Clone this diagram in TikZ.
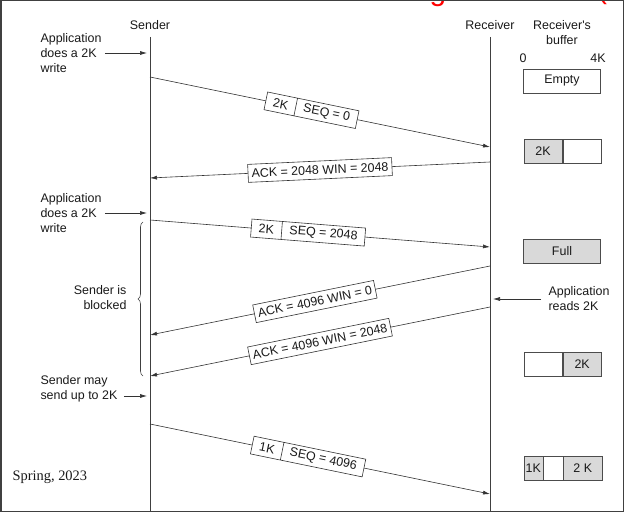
\documentclass[tikz,border=0pt]{standalone}
\usepackage{fontspec}
\setmainfont{Liberation Sans}
\newfontfamily\springfont{Liberation Serif}
\usepackage{tikz}
\usetikzlibrary{arrows.meta, positioning, shapes.multipart, decorations.pathreplacing}

\begin{document}
\begin{tikzpicture}[
        x=1bp, y=-1bp,
        >={Latex[length=7bp, width=4bp]},
        every node/.style={font=\fontsize{12.5}{15}\selectfont, text=black!90},
        lifeline/.style={draw=black!75, line width=0.8bp},
        msg/.style={->, draw=black!80, line width=0.6bp},
        notearr/.style={->, draw=black!80, line width=0.6bp, shorten >=3bp},
        seg/.style={draw=black!80, fill=white, line width=0.6bp, sloped,
            rectangle split, rectangle split horizontal, rectangle split parts=2,
            inner xsep=7.5bp, inner ysep=3.5bp, minimum height=18bp},
        ackbox/.style={draw=black!80, fill=white, line width=0.6bp, sloped,
            inner xsep=3.5bp, inner ysep=3.5bp, minimum height=18bp},
        buf/.style={draw=black!70, line width=0.6bp, minimum height=24bp, inner sep=0pt},
        fullbuf/.style={buf, fill=black!15},
        note/.style={align=left, anchor=west},
        title/.style={red, anchor=base, font=\fontsize{30}{30}\selectfont},
    ]
    \useasboundingbox (0,0) rectangle (625,512);

    %% ===== Slide remnants =====
    \node[title] (ttlg) at (438,1) {g};
    \node[title] (ttlp) at (602,-1) {(};
    \draw[black!75, line width=1.5bp] (0.75,0.75) rectangle (623.25,511.25);

    %% ===== Lifelines =====
    \node (sender) at (150,25) {Sender};
    \node (receiver) at (490,25) {Receiver};
    \node[align=center] (rbuf) at (562,32.5) {Receiver\textquotesingle s\\buffer};
    \node (zero) at (523,58) {0};
    \node (fourk) at (598,58) {4K};
    \coordinate (sTop) at (150,37);
    \coordinate (sBot) at (150,512);
    \coordinate (rTop) at (490,37);
    \coordinate (rBot) at (490,512);
    \draw[lifeline] (sTop) -- (sBot);
    \draw[lifeline] (rTop) -- (rBot);

    %% ===== Message end points =====
    \coordinate (s1) at (150,77);  \coordinate (r1) at (490,147);
    \coordinate (r2) at (490,162); \coordinate (s2) at (150,178);
    \coordinate (s3) at (150,220); \coordinate (r3) at (490,247);
    \coordinate (r4) at (490,266); \coordinate (s4) at (150,335);
    \coordinate (r5) at (490,307); \coordinate (s5) at (150,376);
    \coordinate (s6) at (150,424); \coordinate (r6) at (490,494);

    %% ===== Messages =====
    \draw[msg] (s1) -- node[seg, pos=0.475] (seg1) {2K \nodepart{two} SEQ = 0} (r1);
    \draw[msg] (r2) -- node[ackbox, pos=0.5] (ack1) {ACK = 2048 WIN = 2048} (s2);
    \draw[msg] (s3) -- node[seg, pos=0.465] (seg2) {2K \nodepart{two} SEQ = 2048} (r3);
    \draw[msg] (r4) -- node[ackbox, pos=0.515] (ack2) {ACK = 4096 WIN = 0} (s4);
    \draw[msg] (r5) -- node[ackbox, pos=0.5] (ack3) {ACK = 4096 WIN = 2048} (s5);
    \draw[msg] (s6) -- node[seg, pos=0.465] (seg3) {1K \nodepart{two} SEQ = 4096} (r6);

    %% ===== Sender side notes =====
    \node[note] (app1) at (37,53) {Application\\does a 2K\\write};
    \draw[notearr] (app1.east) -- (app1.east -| sTop);
    \node[note] (app2) at (37,213) {Application\\does a 2K\\write};
    \draw[notearr] (app2.east) -- (app2.east -| sTop);

    \coordinate (bTop) at (143,222);
    \coordinate (bBot) at (143,376);
    \draw[black!75, line width=0.6bp, decorate, decoration={brace, amplitude=5bp}] (bBot) -- (bTop);
    \node[align=right, anchor=east] (blocked) at (130,298) {Sender is\\blocked};

    \node[note] (may) at (37,388.5) {Sender may\\send up to 2K};
    \path (may.east) ++(3bp,7.5) coordinate (mayArr);
    \draw[notearr] (mayArr) -- (mayArr -| sTop);

    %% ===== Receiver side note =====
    \node[note] (reads) at (545,299) {Application\\reads 2K};
    \draw[notearr] ([xshift=-4bp]reads.west) -- (reads.west -| rTop);

    %% ===== Receiver's buffer =====
    \node[buf, minimum width=77bp] (bEmpty) at (562,81) {Empty};

    \node[fullbuf, minimum width=38.5bp, anchor=west] (b2a) at (523.5,151.5) {2K};
    \node[buf, minimum width=38.5bp, right=0pt of b2a] (b2b) {};

    \node[fullbuf, minimum width=77bp] (bFull) at (562,251) {Full};

    \node[buf, minimum width=38.5bp, anchor=west] (b3a) at (523.5,364.5) {};
    \node[fullbuf, minimum width=38.5bp, right=0pt of b3a] (b3b) {2K};

    \node[fullbuf, minimum width=19bp, anchor=west] (b4a) at (523.5,468) {1K};
    \node[buf, minimum width=19.5bp, right=0pt of b4a] (b4b) {};
    \node[fullbuf, minimum width=38.5bp, right=0pt of b4b] (b4c) {2 K};

    %% ===== Footer =====
    \node[anchor=west, font=\springfont\fontsize{14.5}{17}\selectfont] (spring) at (9,477) {Spring, 2023};

\end{tikzpicture}
\end{document}
